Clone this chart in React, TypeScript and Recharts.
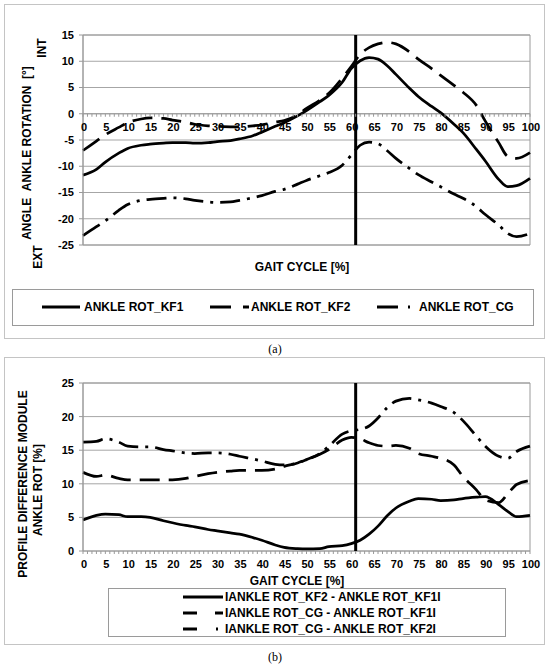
import React from "react";
import { CartesianGrid, Line, LineChart, ReferenceArea, ReferenceLine, XAxis, YAxis } from "recharts";

const FONT = "'Liberation Sans', Arial, sans-serif";
const GRID = "#a6a6a6";
const FRAME = "#9a9a9a";

// gait cycle [%] sample points
const GAIT = [0, 3, 5, 8, 10, 13, 15, 18, 20, 23, 25, 28, 30, 33, 35, 38, 40, 43, 45, 48, 50, 53, 55, 58, 60, 62, 64, 66, 68, 70, 73, 75, 78, 80, 83, 85, 88, 90, 93, 95, 97, 100];

// (a) ankle rotation [deg]
const KF1 = [-11.7, -10.6, -9.2, -7.5, -6.6, -6.0, -5.8, -5.6, -5.5, -5.5, -5.6, -5.5, -5.3, -5.1, -4.8, -4.2, -3.5, -2.4, -1.7, -0.4, 0.6, 2.3, 3.5, 6.0, 8.6, 10.1, 10.7, 10.4, 9.2, 7.5, 4.9, 3.3, 1.4, 0.2, -2.0, -3.6, -6.8, -9.0, -12.5, -13.9, -13.7, -12.3];
const KF2 = [-7.0, -5.2, -4.0, -2.6, -1.7, -1.0, -0.8, -0.9, -1.2, -1.6, -2.0, -2.3, -2.4, -2.5, -2.5, -2.3, -2.1, -1.6, -1.3, -0.2, 1.0, 2.6, 3.9, 6.8, 9.0, 11.3, 12.6, 13.3, 13.6, 13.3, 11.8, 10.4, 8.6, 7.3, 5.4, 4.1, 1.6, -1.4, -5.5, -8.1, -8.5, -7.4];
const CG = [-23.2, -21.5, -20.4, -18.4, -17.3, -16.5, -16.3, -16.1, -16.0, -16.2, -16.5, -16.8, -16.9, -16.8, -16.5, -16.0, -15.6, -14.8, -14.4, -13.4, -12.7, -11.8, -11.2, -9.8, -7.9, -6.0, -5.4, -5.7, -7.0, -8.5, -10.4, -11.6, -13.0, -13.9, -15.3, -16.1, -17.7, -19.2, -21.2, -22.8, -23.4, -22.8];

// (b) profile difference module [%]
const D_KF2_KF1 = [4.6, 5.3, 5.5, 5.4, 5.1, 5.1, 5.0, 4.5, 4.2, 3.8, 3.6, 3.2, 3.0, 2.7, 2.5, 2.0, 1.6, 0.9, 0.55, 0.35, 0.3, 0.35, 0.65, 0.8, 1.1, 1.6, 2.5, 3.7, 5.2, 6.4, 7.4, 7.8, 7.7, 7.5, 7.6, 7.8, 8.0, 8.1, 6.9, 5.9, 5.1, 5.3];
const D_CG_KF1 = [11.7, 11.1, 11.3, 10.8, 10.6, 10.6, 10.6, 10.6, 10.6, 10.8, 11.1, 11.5, 11.7, 11.9, 12.0, 12.0, 12.0, 12.2, 12.6, 13.1, 13.6, 14.4, 15.1, 16.5, 16.9, 16.7, 16.1, 15.7, 15.6, 15.7, 15.3, 14.5, 14.1, 13.8, 12.8, 11.1, 9.1, 7.6, 7.2, 8.5, 9.9, 10.5];
const D_CG_KF2 = [16.2, 16.3, 16.7, 16.2, 15.6, 15.5, 15.5, 15.1, 14.9, 14.6, 14.5, 14.6, 14.6, 14.4, 14.1, 13.7, 13.4, 12.9, 12.8, 13.1, 13.6, 14.5, 15.6, 17.4, 17.9, 18.1, 18.6, 19.8, 21.3, 22.3, 22.7, 22.5, 22.0, 21.5, 20.6, 19.4, 17.1, 15.6, 14.1, 13.8, 14.8, 15.6];

const X_TICKS = Array.from({ length: 101 }, (_, i) => i);
const A_TICKS = [-25, -20, -15, -10, -5, 0, 5, 10, 15];
const B_TICKS = [0, 5, 10, 15, 20, 25];
const HEEL_OFF = 61;

const rowsA = GAIT.map((x, i) => ({ x, kf1: KF1[i], kf2: KF2[i], cg: CG[i] }));
const rowsB = GAIT.map((x, i) => ({ x, d1: D_KF2_KF1[i], d2: D_CG_KF1[i], d3: D_CG_KF2[i] }));

const DASH = "20 9";
const DASHDOT = "20 7 3 7";

// plot height of (a) and how far the zero line sits above its bottom
const A_PLOT_H = 210;
const A_ZERO_UP = (A_PLOT_H * (0 - A_TICKS[0])) / (A_TICKS[A_TICKS.length - 1] - A_TICKS[0]);

const tickText = { fill: "#000", fontSize: 11, fontWeight: 700, fontFamily: FONT };
const label = { fill: "#000", fontSize: 12, fontWeight: 700, fontFamily: FONT };
const serif = "'Liberation Serif', 'Times New Roman', serif";

/** x ticks: a small mark every 1 %, a label every 5 %, drawn `lift` px above the axis slot. */
function gaitTick(lift: number) {
  return (p: any) => {
    const v = p.payload.value;
    const y0 = p.y - lift;
    return (
      <g key={v}>
        <line x1={p.x} x2={p.x} y1={y0} y2={y0 + 3} stroke={FRAME} strokeWidth={1} />
        {v % 5 === 0 && (
          <text x={p.x + 1} y={y0 + 17} textAnchor="middle" {...tickText}>
            {v}
          </text>
        )}
      </g>
    );
  };
}

function PanelA() {
  return (
    <div style={{ position: "absolute", left: 0, top: 0 }}>
      <LineChart width={550} height={350} data={rowsA} margin={{ top: 35, right: 20, bottom: 85, left: 33 }}>
        <CartesianGrid vertical={false} stroke={GRID} />
        <ReferenceArea x1={0} x2={100} y1={-25} y2={15} fill="none" stroke={FRAME} fillOpacity={0} />
        <XAxis dataKey="x" type="number" domain={[0, 100]} ticks={X_TICKS} interval={0} axisLine={false}
          tickLine={false} tickSize={0} tickMargin={0} height={20} tick={gaitTick(A_ZERO_UP)} />
        <YAxis type="number" domain={[-25, 15]} ticks={A_TICKS} interval={0} width={50} tickSize={4} tickMargin={5}
          axisLine={{ stroke: FRAME }} tickLine={{ stroke: FRAME }} tick={tickText} />
        <ReferenceLine y={0} stroke={FRAME} />
        <ReferenceLine x={HEEL_OFF} stroke="#000" strokeWidth={3} />
        <Line type="monotone" dataKey="kf1" stroke="#000" strokeWidth={2.75} dot={false} isAnimationActive={false} />
        <Line type="monotone" dataKey="kf2" stroke="#000" strokeWidth={2.75} strokeDasharray={DASH} dot={false} isAnimationActive={false} />
        <Line type="monotone" dataKey="cg" stroke="#000" strokeWidth={2.75} strokeDasharray={DASHDOT} dot={false} isAnimationActive={false} />
      </LineChart>
    </div>
  );
}

function PanelB() {
  return (
    <div style={{ position: "absolute", left: 0, top: 350 }}>
      <LineChart width={550} height={316} data={rowsB} margin={{ top: 33, right: 20, bottom: 95, left: 33 }}>
        <CartesianGrid vertical={false} stroke={GRID} />
        <ReferenceArea x1={0} x2={100} y1={0} y2={25} fill="none" stroke={FRAME} fillOpacity={0} />
        <XAxis dataKey="x" type="number" domain={[0, 100]} ticks={X_TICKS} interval={0} axisLine={false}
          tickLine={false} tickSize={0} tickMargin={0} height={20} tick={gaitTick(0)} />
        <YAxis type="number" domain={[0, 25]} ticks={B_TICKS} interval={0} width={50} tickSize={4} tickMargin={5}
          axisLine={{ stroke: FRAME }} tickLine={{ stroke: FRAME }} tick={tickText} />
        <ReferenceLine x={HEEL_OFF} stroke="#000" strokeWidth={3} />
        <Line type="monotone" dataKey="d1" stroke="#000" strokeWidth={2.75} dot={false} isAnimationActive={false} />
        <Line type="monotone" dataKey="d2" stroke="#000" strokeWidth={2.75} strokeDasharray={DASH} dot={false} isAnimationActive={false} />
        <Line type="monotone" dataKey="d3" stroke="#000" strokeWidth={2.75} strokeDasharray={DASHDOT} dot={false} isAnimationActive={false} />
      </LineChart>
    </div>
  );
}

function Overlay() {
  const sample = (x1: number, x2: number, y: number, dash?: string) => (
    <line x1={x1} x2={x2} y1={y} y2={y} stroke="#000" strokeWidth={3} strokeDasharray={dash} />
  );
  return (
    <svg width={550} height={666} style={{ position: "absolute", left: 0, top: 0, pointerEvents: "none" }}>
      {/* panel (a) */}
      <rect x={4.5} y={4.5} width={540} height={334} fill="none" stroke="#c4c4c4" />
      <text x={302} y={267} textAnchor="middle" dominantBaseline="central" {...label}>GAIT CYCLE [%]</text>
      <text transform="rotate(-90 27 153)" x={27} y={153} textAnchor="middle" dominantBaseline="central" {...label}>
        {"ANGLE\u00a0\u00a0ANKLE ROTATION\u00a0\u00a0[°]"}
      </text>
      <text transform="rotate(-90 42 48)" x={42} y={48} textAnchor="middle" dominantBaseline="central" {...label}>INT</text>
      <text transform="rotate(-90 38 257)" x={38} y={257} textAnchor="middle" dominantBaseline="central" {...label}>EXT</text>
      <rect x={12.5} y={289.5} width={521} height={36} fill="none" stroke={FRAME} />
      {sample(42, 80, 307)}
      <text x={84} y={307} dominantBaseline="central" {...label}>ANKLE ROT_KF1</text>
      {sample(210, 249, 307, "21 12 6")}
      <text x={251} y={307} dominantBaseline="central" {...label}>ANKLE ROT_KF2</text>
      {sample(377, 410, 307, "21 10 2 50")}
      <text x={419} y={307} dominantBaseline="central" {...label}>ANKLE ROT_CG</text>
      <text x={275} y={349} textAnchor="middle" dominantBaseline="central" fontFamily={serif} fontSize={12}>(a)</text>

      {/* panel (b) */}
      <rect x={4.5} y={357.5} width={540} height={287} fill="none" stroke="#c4c4c4" />
      <text x={297} y={581} textAnchor="middle" dominantBaseline="central" {...label}>GAIT CYCLE [%]</text>
      <text transform="rotate(-90 23 484)" x={23} y={484} textAnchor="middle" dominantBaseline="central" {...label}>PROFILE DIFFERENCE MODULE</text>
      <text transform="rotate(-90 38 490)" x={38} y={490} textAnchor="middle" dominantBaseline="central" {...label}>ANKLE ROT [%]</text>
      <rect x={108.5} y={588.5} width={397} height={48} fill="none" stroke={FRAME} />
      {sample(183, 223, 597)}
      <text x={225} y={597} dominantBaseline="central" {...label}>IANKLE ROT_KF2 - ANKLE ROT_KF1I</text>
      {sample(183, 223, 613, "14 18 8")}
      <text x={225} y={613} dominantBaseline="central" {...label}>IANKLE ROT_CG - ANKLE ROT_KF1I</text>
      {sample(183, 223, 629, "14 19 2 50")}
      <text x={225} y={629} dominantBaseline="central" {...label}>IANKLE ROT_CG - ANKLE ROT_KF2I</text>
      <text x={275} y={657} textAnchor="middle" dominantBaseline="central" fontFamily={serif} fontSize={12}>(b)</text>
    </svg>
  );
}

export default function App() {
  return (
    <div style={{ position: "absolute", left: 0, top: 0, width: 550, height: 666, background: "#fff" }}>
      <PanelA />
      <PanelB />
      <Overlay />
    </div>
  );
}
